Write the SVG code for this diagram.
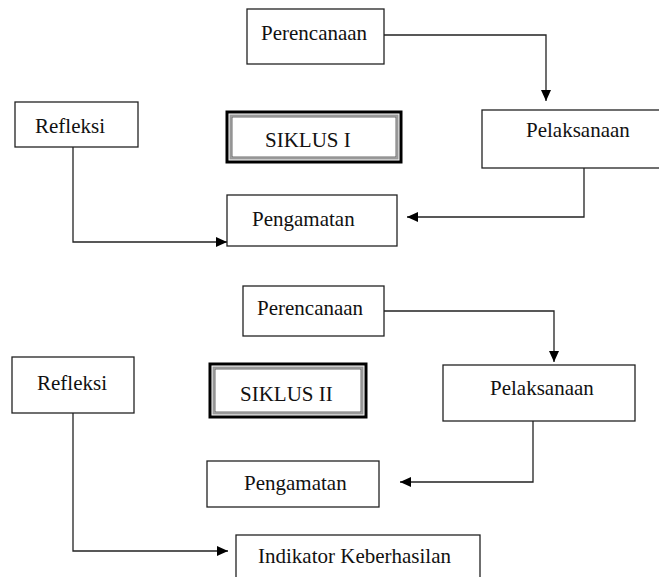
<svg xmlns="http://www.w3.org/2000/svg" width="659" height="577" viewBox="0 0 659 577">
<style>
.box{fill:#fff;stroke:#222;stroke-width:1.3}
.t{font-family:"Liberation Serif","Times New Roman",serif;fill:#111;font-size:21px}
.conn{fill:none;stroke:#222;stroke-width:1.3}
.outer{fill:#fff;stroke:#000;stroke-width:3}
.mid{fill:none;stroke:#999;stroke-width:2}
.inn{fill:none;stroke:#444;stroke-width:0.8}
</style>
<defs>
<marker id="ah" markerUnits="userSpaceOnUse" markerWidth="12" markerHeight="10" refX="11" refY="5" orient="auto">
<path d="M0,0 L11,5 L0,10 Z" fill="#000"/>
</marker>
</defs>
<rect width="659" height="577" fill="#fff"/>
<g id="connectors">
<path class="conn" d="M384,35 H546 V101" marker-end="url(#ah)"/>
<path class="conn" d="M584,168 V217 H407" marker-end="url(#ah)"/>
<path class="conn" d="M73,147 V242 H227" marker-end="url(#ah)"/>
<path class="conn" d="M384,311 H554 V362" marker-end="url(#ah)"/>
<path class="conn" d="M533,421 V482 H400" marker-end="url(#ah)"/>
<path class="conn" d="M73,413 V551 H228" marker-end="url(#ah)"/>
</g>
<g id="perencanaan1"><rect class="box" x="247" y="9" width="137" height="55"/><text class="t" x="261" y="40" font-size="21.5">Perencanaan</text></g>
<g id="pelaksanaan1"><rect class="box" x="482" y="110" width="185" height="58"/><text class="t" x="526" y="137" font-size="19.6">Pelaksanaan</text></g>
<g id="siklus1"><rect class="outer" x="227" y="112" width="174" height="50"/><rect class="mid" x="230.5" y="115.5" width="167" height="43"/><rect class="inn" x="232" y="117" width="164" height="40"/><text class="t" x="265" y="147" font-size="21.3">SIKLUS I</text></g>
<g id="refleksi1"><rect class="box" x="15" y="102" width="123" height="45"/><text class="t" x="35" y="133" font-size="21.6">Refleksi</text></g>
<g id="pengamatan1"><rect class="box" x="227" y="195" width="170" height="51"/><text class="t" x="252" y="226" font-size="21.6">Pengamatan</text></g>
<g id="perencanaan2"><rect class="box" x="243" y="286" width="141" height="50"/><text class="t" x="257" y="315" font-size="19.8">Perencanaan</text></g>
<g id="siklus2"><rect class="outer" x="210" y="364" width="156" height="53"/><rect class="mid" x="213.5" y="367.5" width="149" height="46"/><rect class="inn" x="215" y="369" width="146" height="43"/><text class="t" x="240" y="401" font-size="21.3">SIKLUS II</text></g>
<g id="pelaksanaan2"><rect class="box" x="443" y="365" width="192" height="56"/><text class="t" x="490" y="395" font-size="19.6">Pelaksanaan</text></g>
<g id="refleksi2"><rect class="box" x="12" y="357" width="122" height="56"/><text class="t" x="37" y="390" font-size="21.6">Refleksi</text></g>
<g id="pengamatan2"><rect class="box" x="207" y="461" width="172" height="46"/><text class="t" x="244" y="490" font-size="20">Pengamatan</text></g>
<g id="indikator"><rect class="box" x="236" y="535" width="244" height="60"/><text class="t" x="258" y="563" font-size="20.7">Indikator Keberhasilan</text></g>
</svg>
